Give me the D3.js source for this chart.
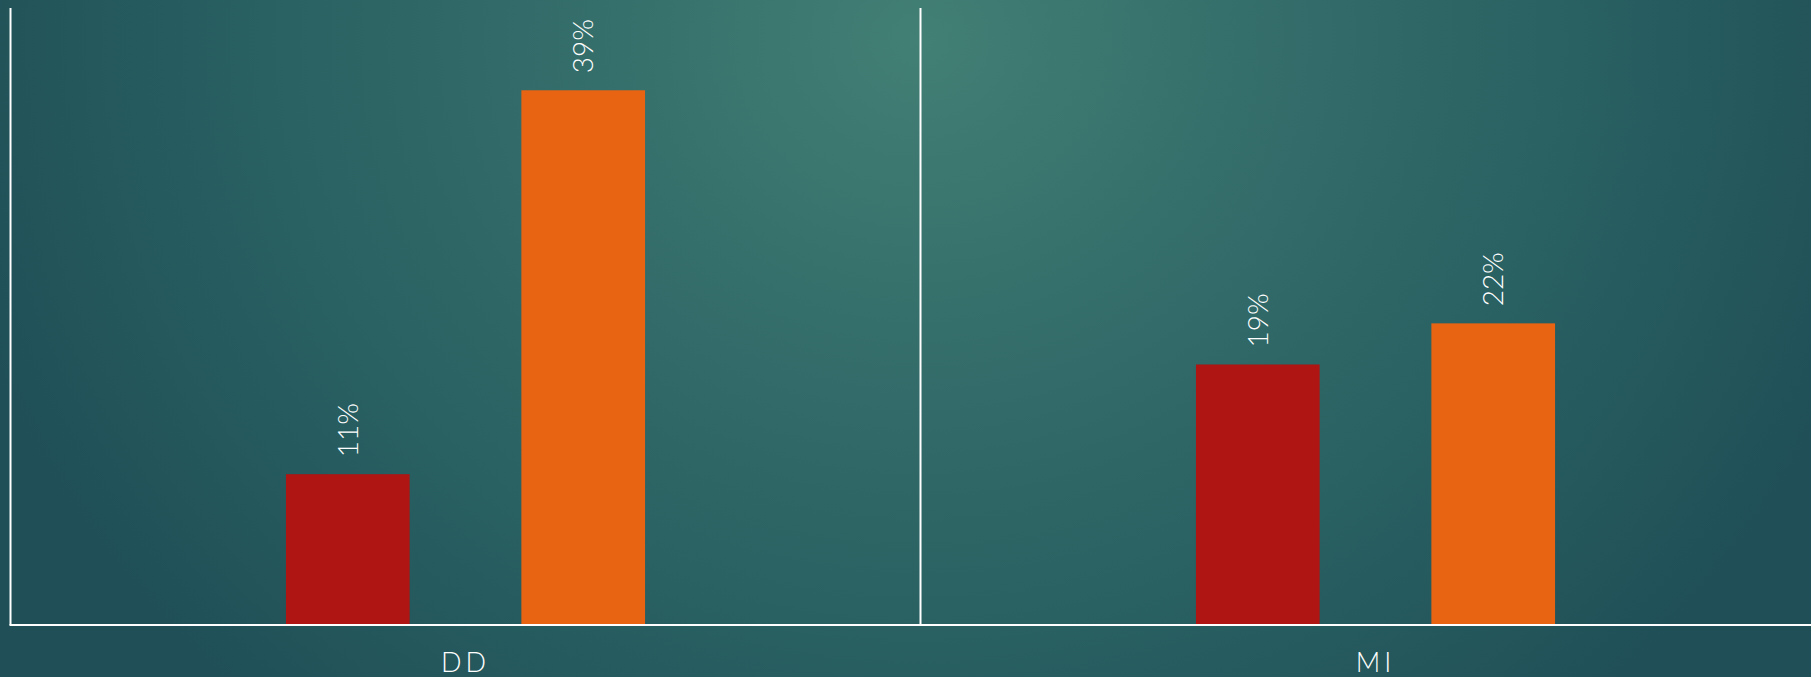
<!DOCTYPE html>
<html>
<head>
<meta charset="utf-8">
<script src="https://cdn.jsdelivr.net/npm/d3@7"></script>
<style>
  html, body { margin: 0; padding: 0; overflow: hidden; background: #2a5f60; }
  svg { display: block; }
  text { font-family: "Century Gothic", "Lato", "Open Sans", sans-serif; fill: #ffffff; }
</style>
</head>
<body>
<svg id="chart" width="1811" height="677"></svg>
<script>
// DATA
var categories = ["DD", "MI"];
var seriesNames = ["s1", "s2"];
var seriesA = [0.11, 0.19];
var seriesB = [0.39, 0.22];
var valueLabels = [["11%", "39%"], ["19%", "22%"]];
var colors = ["#ae1513", "#e86413"];

var W = 1811, H = 677;
var margin = { top: 8, left: 10.5, bottom: 52 };
var plotW = 1820, baseY = H - margin.bottom;

var svg = d3.select("#chart");

// background
var defs = svg.append("defs");
var grad = defs.append("radialGradient")
  .attr("id", "bg")
  .attr("gradientUnits", "userSpaceOnUse")
  .attr("cx", 920).attr("cy", 40).attr("r", 1000)
  .attr("gradientTransform", "translate(920,40) scale(1,0.9) translate(-920,-40)");
grad.append("stop").attr("offset", 0).attr("stop-color", "#427f74");
grad.append("stop").attr("offset", 0.4).attr("stop-color", "#326b69");
grad.append("stop").attr("offset", 0.75).attr("stop-color", "#265c5f");
grad.append("stop").attr("offset", 1).attr("stop-color", "#204f57");
svg.append("rect").attr("width", W).attr("height", H).attr("fill", "url(#bg)");

var x0 = d3.scaleBand().domain(categories).range([margin.left, margin.left + plotW]).padding(0);
var x1 = d3.scaleBand().domain(seriesNames).range([0, x0.bandwidth()])
  .paddingInner(0.4746).paddingOuter(1.17);
var y = d3.scaleLinear().domain([0, 0.45]).range([baseY, margin.top]);

var rows = categories.map(function (c, i) {
  return { cat: c, vals: [seriesA[i], seriesB[i]], labels: valueLabels[i] };
});

var groups = svg.selectAll(".grp").data(rows).enter().append("g")
  .attr("class", "grp")
  .attr("transform", function (d) { return "translate(" + x0(d.cat) + ",0)"; });

groups.selectAll("rect").data(function (d) {
  return d.vals.map(function (v, j) { return { s: seriesNames[j], v: v, lab: d.labels[j], j: j }; });
}).enter().append("rect")
  .attr("x", function (d) { return x1(d.s); })
  .attr("y", function (d) { return y(d.v); })
  .attr("width", x1.bandwidth())
  .attr("height", function (d) { return baseY - y(d.v); })
  .attr("fill", function (d) { return colors[d.j]; });

groups.selectAll(".lbl").data(function (d) {
  return d.vals.map(function (v, j) { return { s: seriesNames[j], v: v, lab: d.labels[j] }; });
}).enter().append("text")
  .attr("class", "lbl")
  .attr("transform", function (d) {
    return "translate(" + (x1(d.s) + x1.bandwidth() / 2) + "," + (y(d.v) - 17) + ") rotate(-90)";
  })
  .attr("dy", "0.35em")
  .attr("font-size", 28)
  .attr("font-weight", 300)
  .text(function (d) { return d.lab; });

// axes
var axis = svg.append("g").attr("stroke", "#ffffff").attr("stroke-width", 2);
axis.append("line")
  .attr("x1", margin.left - 1).attr("x2", W)
  .attr("y1", baseY).attr("y2", baseY);
axis.selectAll(".div").data(categories).enter().append("line")
  .attr("x1", function (d) { return x0(d); })
  .attr("x2", function (d) { return x0(d); })
  .attr("y1", margin.top).attr("y2", baseY);

svg.selectAll(".cat").data(categories).enter().append("text")
  .attr("class", "cat")
  .attr("x", function (d) { return x0(d) + x0.bandwidth() / 2; })
  .attr("y", 672)
  .attr("text-anchor", "middle")
  .attr("font-size", 27)
  .attr("font-weight", 300)
  .attr("letter-spacing", 4)
  .text(function (d) { return d; });
</script>
</body>
</html>
